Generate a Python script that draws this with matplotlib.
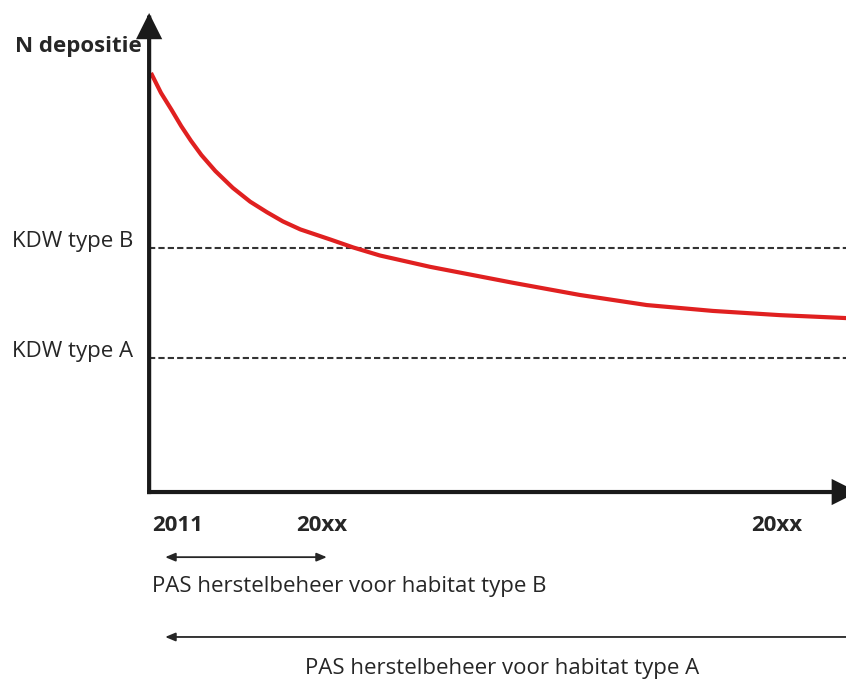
import matplotlib.pyplot as plt

tijd = [0.4, 1.7, 3.2, 4.6, 6.0, 7.5, 9.5, 12.0, 14.5, 16.9, 19.2, 21.7, 26.0, 29.3,
        33.1, 40.3, 52.2, 61.8, 71.4, 80.9, 90.5, 100]
depositie = [99.3, 95.0, 91.0, 87.1, 83.6, 80.2, 76.4, 72.4, 69.1, 66.6, 64.4, 62.5, 60.1, 58.2,
             56.3, 53.6, 49.8, 46.9, 44.5, 43.1, 42.1, 41.4]

kdw_waarden = [58.1, 31.9]
kdw_labels = ['KDW type B', 'KDW type A']

tick_pos = [0, 24.7, 90]
tick_labels = ['2011', '20xx', '20xx']

periode_b = [2.3, 25.5]
periode_a = [2.3, 102]

plt.rcParams['font.family'] = ['Open Sans', 'DejaVu Sans']
tekstkleur = '#262626'

fig = plt.figure(figsize=(8.46, 6.79), dpi=100)
ax = fig.add_axes([0, 0, 1, 1])
ax.set_xlim(-21.4, 100)
ax.set_ylim(-44.5, 117.1)
ax.axis('off')

# assen met pijlen
pijl = dict(arrowstyle='-|>,head_length=0.7,head_width=0.35',
            mutation_scale=20, lw=3, color='#1a1a1a', shrinkA=0, shrinkB=0,
            capstyle='projecting', joinstyle='miter')
ax.annotate('', xy=(0, 114), xytext=(0, 0), arrowprops=pijl, annotation_clip=False)
ax.annotate('', xy=(101.7, 0), xytext=(0, 0), arrowprops=pijl, annotation_clip=False)

# KDW lijnen
for w, lab in zip(kdw_waarden, kdw_labels):
    ax.plot([0, 100], [w, w], color='#333333', lw=1.5, ls=(0, (3, 1.5)))
    ax.text(-2.3, w + 1.6, lab, ha='right', va='center', fontsize=16, color=tekstkleur)

ax.plot(tijd, depositie, color='#e02020', lw=3, solid_joinstyle='round')

ax.text(-1, 106, 'N depositie', ha='right', va='center', fontsize=16,
        fontweight='bold', color=tekstkleur)

for p, lab in zip(tick_pos, tick_labels):
    if p == 0:
        ax.text(p + 0.4, -7.9, lab, ha='left', va='center', fontsize=16,
                fontweight='bold', color=tekstkleur)
    else:
        ax.text(p, -7.9, lab, ha='center', va='center', fontsize=16,
                fontweight='bold', color=tekstkleur)

# periodes herstelbeheer
ax.annotate('', xy=(periode_b[1], -15.5), xytext=(periode_b[0], -15.5),
            arrowprops=dict(arrowstyle='<|-|>,head_length=0.6,head_width=0.25',
                            mutation_scale=10, lw=1.3, color='#262626',
                            shrinkA=0, shrinkB=0))
ax.text(0.4, -22.4, 'PAS herstelbeheer voor habitat type B', ha='left', va='center',
        fontsize=16, color=tekstkleur)

ax.annotate('', xy=(periode_a[0], -34.5), xytext=(periode_a[1], -34.5),
            arrowprops=dict(arrowstyle='-|>,head_length=0.6,head_width=0.25',
                            mutation_scale=10, lw=1.3, color='#262626',
                            shrinkA=0, shrinkB=0),
            annotation_clip=False)
ax.text(50.6, -42.0, 'PAS herstelbeheer voor habitat type A', ha='center', va='center',
        fontsize=16, color=tekstkleur)

fig.savefig('out.png', dpi=100)
